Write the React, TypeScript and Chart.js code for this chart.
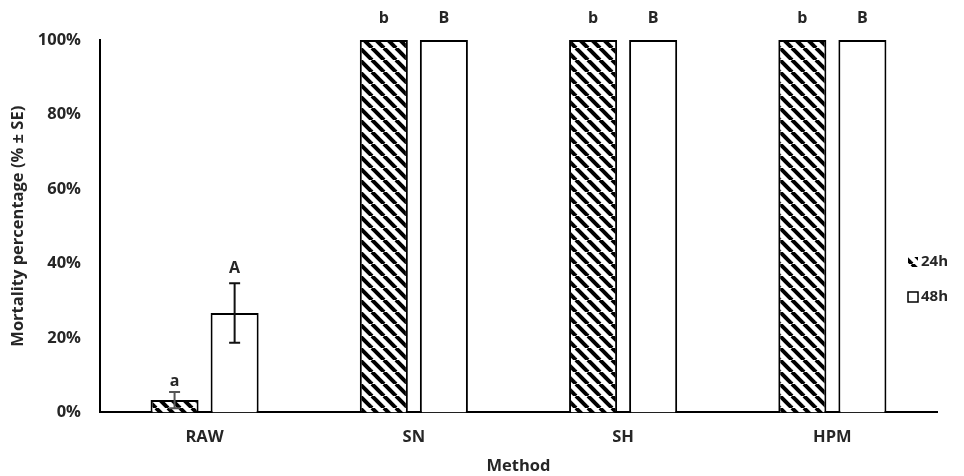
import React, { useEffect, useRef } from "react";
import { Chart, registerables } from "chart.js";

Chart.register(...registerables);

const categories = ["RAW", "SN", "SH", "HPM"];
const seriesLabels = ["24h", "48h"];
const mortality24 = [3.3, 100, 100, 100];
const mortality48 = [26.7, 100, 100, 100];
const se24 = [2.2, 0, 0, 0];
const se48 = [8.0, 0, 0, 0];
const letters24 = ["a", "b", "b", "b"];
const letters48 = ["A", "B", "B", "B"];
const yMin = 0;
const yMax = 100;
const yStep = 20;

const FONT = "'Open Sans', sans-serif";
const TEXT = "#262626";
const FS = 16.5;

function makeHatch(): CanvasPattern | string {
  const s = 12;
  const c = document.createElement("canvas");
  c.width = s;
  c.height = s;
  const g = c.getContext("2d");
  if (!g) return "#000";
  g.fillStyle = "#fff";
  g.fillRect(0, 0, s, s);
  g.strokeStyle = "#000";
  g.lineWidth = 4;
  for (const x0 of [-s, 0, s]) {
    g.beginPath();
    g.moveTo(x0, 0);
    g.lineTo(x0 + s, s);
    g.stroke();
  }
  const p = g.createPattern(c, "repeat");
  return p || "#000";
}

export default function App() {
  const ref = useRef<HTMLCanvasElement | null>(null);

  useEffect(() => {
    document.body.style.margin = "0";
    const canvas = ref.current;
    if (!canvas) return;
    const hatch = makeHatch();
    const seList = [se24, se48];
    const letterList = [letters24, letters48];

    const errorPlugin = {
      id: "errorLetters",
      afterDatasetsDraw(chart: any) {
        const ctx = chart.ctx;
        const y = chart.scales.y;
        chart.data.datasets.forEach((ds: any, i: number) => {
          const meta = chart.getDatasetMeta(i);
          meta.data.forEach((el: any, j: number) => {
            const v = ds.data[j];
            const se = seList[i][j];
            const x = el.x;
            ctx.save();
            if (se > 0) {
              const yt = y.getPixelForValue(v + se);
              const yb = y.getPixelForValue(Math.max(0, v - se));
              ctx.strokeStyle = i === 0 ? "#555" : "#111";
              ctx.lineWidth = 2;
              ctx.beginPath();
              ctx.moveTo(x, yt);
              ctx.lineTo(x, yb);
              ctx.moveTo(x - 5.5, yt);
              ctx.lineTo(x + 5.5, yt);
              ctx.moveTo(x - 5.5, yb);
              ctx.lineTo(x + 5.5, yb);
              ctx.stroke();
            }
            const top = y.getPixelForValue(v + se);
            const ly = se > 0 ? (i === 0 ? top - 10 : top - 15) : top - 22;
            ctx.fillStyle = TEXT;
            ctx.font = `bold 16px ${FONT}`;
            ctx.textAlign = "center";
            ctx.textBaseline = "middle";
            ctx.fillText(letterList[i][j], x, ly);
            ctx.restore();
          });
        });
      },
    };

    const legendPlugin = {
      id: "sideLegend",
      afterDraw(chart: any) {
        const ctx = chart.ctx;
        const area = chart.chartArea;
        const bx = area.right - 29;
        const rows = [area.top + 222, area.top + 257];
        chart.data.datasets.forEach((ds: any, i: number) => {
          const cy = rows[i];
          ctx.save();
          ctx.fillStyle = ds.backgroundColor;
          ctx.fillRect(bx, cy - 5, 10, 10);
          if (i === 1) {
            ctx.strokeStyle = "#000";
            ctx.lineWidth = 1.5;
            ctx.strokeRect(bx, cy - 5, 10, 10);
          }
          ctx.fillStyle = TEXT;
          ctx.font = `bold 15px ${FONT}`;
          ctx.textAlign = "left";
          ctx.textBaseline = "middle";
          ctx.fillText(ds.label, bx + 13, cy);
          ctx.restore();
        });
      },
    };

    const chart = new Chart(canvas, {
      type: "bar",
      data: {
        labels: categories,
        datasets: [
          {
            label: seriesLabels[0],
            data: mortality24,
            backgroundColor: hatch as any,
            borderColor: "#000",
            borderWidth: 2,
            categoryPercentage: 0.574,
            barPercentage: 0.8,
          },
          {
            label: seriesLabels[1],
            data: mortality48,
            backgroundColor: "#fff",
            borderColor: "#000",
            borderWidth: 2,
            categoryPercentage: 0.574,
            barPercentage: 0.8,
          },
        ],
      },
      options: {
        animation: false,
        responsive: false,
        maintainAspectRatio: false,
        layout: { padding: { top: 40, right: 27, bottom: 0, left: 8 } },
        plugins: {
          legend: { display: false },
          tooltip: { enabled: false },
        },
        scales: {
          x: {
            grid: { display: false, drawTicks: false },
            border: { display: true, color: "#000", width: 2 },
            ticks: {
              color: TEXT,
              font: { family: FONT, size: FS, weight: "bold" },
              padding: 15,
            },
            title: {
              display: true,
              text: "Method",
              color: TEXT,
              font: { family: FONT, size: FS, weight: "bold" },
              padding: { top: -6, bottom: 0 },
            },
          },
          y: {
            min: yMin,
            max: yMax,
            grid: { display: false, drawTicks: false },
            border: { display: true, color: "#000", width: 2 },
            ticks: {
              stepSize: yStep,
              color: TEXT,
              font: { family: FONT, size: FS, weight: "bold" },
              padding: 19,
              callback: (v: any) => `${v}%`,
            },
            title: {
              display: true,
              text: "Mortality percentage (% ± SE)",
              color: TEXT,
              font: { family: FONT, size: FS, weight: "bold" },
              padding: { top: 0, bottom: -9 },
            },
          },
        },
      },
      plugins: [errorPlugin, legendPlugin],
    });
    return () => chart.destroy();
  }, []);

  return (
    <div style={{ position: "fixed", left: 0, top: 0, width: 964, height: 476, background: "#fff" }}>
      <canvas ref={ref} width={964} height={476} style={{ width: 964, height: 476, display: "block" }} />
    </div>
  );
}
